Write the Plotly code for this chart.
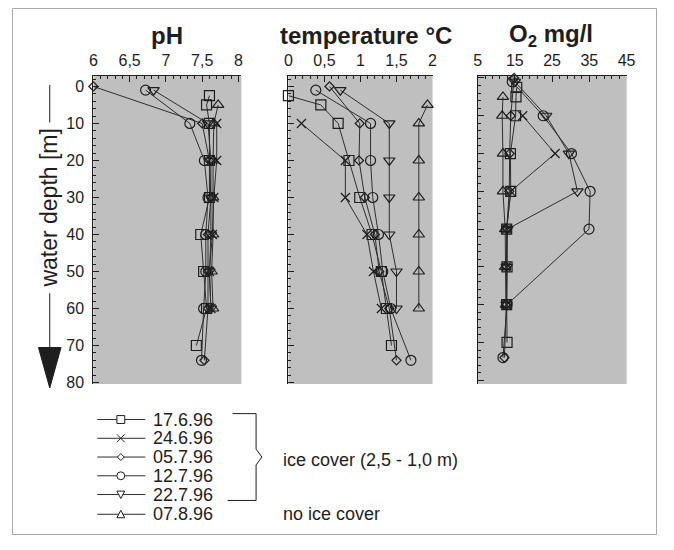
import plotly.graph_objects as go

# The page body keeps its default 8px margin on every side, so the figure is
# sized to fit the 674x550 window inside it; positions below are given in
# window pixels and shifted by that margin.
WIN_W, WIN_H = 674, 550
OFF = 8
W, H = WIN_W - 2 * OFF, WIN_H - 2 * OFF

# ---------------- data ----------------
SERIES = ["17.6.96", "24.6.96", "05.7.96", "12.7.96", "22.7.96", "07.8.96"]

DEPTH_1706 = [2.5, 5, 10, 20, 30, 40, 50, 60, 70]
PH_1706 = [7.60, 7.56, 7.60, 7.60, 7.60, 7.48, 7.52, 7.56, 7.42]
T_1706 = [0.00, 0.45, 0.69, 0.84, 0.99, 1.16, 1.29, 1.36, 1.43]
O2_1706 = [15.5, 15.3, 15.2, 13.8, 13.9, 12.8, 12.9, 12.8, 12.9]

DEPTH_2406 = [10, 20, 30, 40, 50, 60]
PH_2406 = [7.70, 7.70, 7.66, 7.64, 7.60, 7.62]
T_2406 = [0.18, 0.79, 0.79, 1.09, 1.18, 1.29]
O2_2406 = [17.1, 25.8, 13.9, 12.8, 12.7, 12.8]

DEPTH_0507 = [0, 10, 20, 30, 40, 50, 60, 74]
PH_0507 = [6.00, 7.50, 7.60, 7.62, 7.58, 7.58, 7.58, 7.53]
T_0507 = [0.57, 0.99, 0.98, 1.06, 1.20, 1.26, 1.40, 1.50]
O2_0507 = [14.8, 13.9, 13.6, 13.5, 12.8, 12.7, 12.7, 12.2]

DEPTH_1207 = [1, 10, 20, 30, 40, 50, 60, 74]
PH_1207 = [6.72, 7.33, 7.53, 7.58, 7.55, 7.55, 7.52, 7.49]
T_1207 = [0.38, 1.14, 1.14, 1.17, 1.25, 1.31, 1.42, 1.70]
O2_1207 = [14.3, 22.6, 30.2, 35.2, 34.9, None, 12.9, 11.8]

DEPTH_2207 = [1, 10, 20, 30, 40, 50, 60]
PH_2207 = [6.83, 7.58, 7.62, 7.62, 7.62, 7.60, 7.62]
T_2207 = [0.72, 1.40, 1.40, 1.40, 1.40, 1.50, 1.50]
O2_2207 = [15.0, 23.4, 29.5, 31.8, 13.0, 12.8, 12.8]

DEPTH_0708 = [5, 10, 20, 30, 40, 50, 60]
PH_0708 = [7.72, 7.66, 7.65, 7.65, 7.65, 7.63, 7.65]
T_0708 = [1.93, 1.81, 1.81, 1.81, 1.81, 1.81, 1.81]
O2_0708 = [11.8, 11.6, 11.8, 11.8, 12.4, 12.4, 12.6]

DEPTHS = [DEPTH_1706, DEPTH_2406, DEPTH_0507, DEPTH_1207, DEPTH_2207, DEPTH_0708]
PH = [PH_1706, PH_2406, PH_0507, PH_1207, PH_2207, PH_0708]
TEMP = [T_1706, T_2406, T_0507, T_1207, T_2207, T_0708]
O2 = [O2_1706, O2_2406, O2_0507, O2_1207, O2_2207, O2_0708]

PH_TICKS = [6, 6.5, 7, 7.5, 8]
PH_LABELS = ["6", "6,5", "7", "7,5", "8"]
T_TICKS = [0, 0.5, 1, 1.5, 2]
T_LABELS = ["0", "0,5", "1", "1,5", "2"]
O2_TICKS = [5, 15, 25, 35, 45]
O2_LABELS = ["5", "15", "25", "35", "45"]
DEPTH_TICKS = [0, 10, 20, 30, 40, 50, 60, 70, 80]
DEPTH_LABELS = ["0", "10", "20", "30", "40", "50", "60", "70", "80"]

# ---------------- styling ----------------
FONT = "Liberation Sans, Arial, Helvetica, sans-serif"
INK = "#1e1e1e"
LINE = "#2e2e2e"
BG = "#bfbfbf"
SYMBOLS = ["square-open", "x-thin-open", "diamond-open", "circle-open",
           "triangle-down-open", "triangle-up-open"]
SIZES = [10, 9, 7, 10, 10, 10]


def px(x):
    return (x - OFF) / W


def py(y):
    return 1 - (y - OFF) / H


fig = go.Figure()

panels = [(PH, "x", "y"), (TEMP, "x2", "y2"), (O2, "x3", "y3")]
for vals, xa, ya in panels:
    for i in range(len(SERIES)):
        fig.add_trace(go.Scatter(
            x=vals[i], y=DEPTHS[i], xaxis=xa, yaxis=ya,
            mode="lines+markers", connectgaps=True, cliponaxis=False,
            line=dict(color=LINE, width=1),
            marker=dict(symbol=SYMBOLS[i], size=SIZES[i],
                        color=INK, line=dict(color=INK, width=1.2)),
            showlegend=False, name=SERIES[i]))

top, bottom = 77, 389
ydom = [py(bottom), py(top)]


def xax(dom, rng, tv, tt, minor, anchor):
    return dict(domain=dom, range=rng, side="top", anchor=anchor,
                showline=True, linecolor=INK, linewidth=1, mirror=False,
                ticks="inside", ticklen=6, tickwidth=1, tickcolor=INK,
                tickvals=tv, ticktext=tt, showgrid=False, zeroline=False,
                tickfont=dict(family=FONT, size=16, color=INK),
                ticklabelstandoff=3,
                minor=dict(dtick=minor, tick0=tv[0], ticks="inside",
                           ticklen=3, tickcolor=INK, showgrid=False))


def yax(anchor, rng, labels):
    return dict(domain=ydom, range=rng, anchor=anchor, showline=True,
                linecolor=INK, linewidth=1, ticks="inside", ticklen=6,
                tickwidth=1, tickcolor=INK, tickvals=DEPTH_TICKS,
                ticktext=DEPTH_LABELS, showticklabels=labels,
                showgrid=False, zeroline=False,
                tickfont=dict(family=FONT, size=16, color=INK),
                ticklabelstandoff=5,
                minor=dict(dtick=2, tick0=0, ticks="inside", ticklen=3,
                           tickcolor=INK, showgrid=False))


fig.update_layout(
    width=W, height=H,
    margin=dict(l=0, r=0, t=0, b=0, pad=0),
    paper_bgcolor="white", plot_bgcolor=BG,
    separators=",.",
    font=dict(family=FONT, color=INK),
    xaxis=xax([px(91), px(242)], [6, 8.04], PH_TICKS, PH_LABELS, 0.1, "y"),
    xaxis2=xax([px(290), px(437)], [0, 2], T_TICKS, T_LABELS, 0.1, "y2"),
    xaxis3=xax([px(483), px(635)], [5, 45], O2_TICKS, O2_LABELS, 2, "y3"),
    yaxis=yax("x", [80.4, -2.8], True),
    yaxis2=yax("x2", [80.4, -2.8], False),
    yaxis3=yax("x3", [81.0, -0.5], False),
)

ann = []
shapes = []

# panel titles
for cx, txt in [(166, "<b>pH</b>"), (369, "<b>temperature °C</b>"),
                (558, "<b>O<sub>2</sub> mg/l</b>")]:
    ann.append(dict(x=px(cx), y=py(36), xref="paper", yref="paper",
                    text=txt, showarrow=False, xanchor="center",
                    yanchor="middle", font=dict(family=FONT, size=24, color=INK)))

# y title with arrow
ann.append(dict(x=px(46), y=py(210), xref="paper", yref="paper",
                text="water depth [m]", textangle=-90, showarrow=False,
                xanchor="center", yanchor="middle",
                font=dict(family=FONT, size=23, color=INK)))
shapes.append(dict(type="line", xref="paper", yref="paper",
                   x0=px(46.5), x1=px(46.5), y0=py(86), y1=py(124),
                   line=dict(color=INK, width=1)))
shapes.append(dict(type="line", xref="paper", yref="paper",
                   x0=px(46.5), x1=px(46.5), y0=py(297), y1=py(352),
                   line=dict(color=INK, width=1)))
shapes.append(dict(type="path", xref="paper", yref="paper",
                   path=f"M {px(35)},{py(352)} L {px(58)},{py(352)} L {px(46.5)},{py(393)} Z",
                   fillcolor=INK, line=dict(color=INK, width=1)))

# custom legend
rows = [425, 444, 463, 482, 501, 521]
lx0, lx1, mx, tx = 95, 144, 119, 150
for i, name in enumerate(SERIES):
    yy = rows[i]
    shapes.append(dict(type="line", xref="paper", yref="paper",
                       x0=px(lx0), x1=px(lx1), y0=py(yy), y1=py(yy),
                       line=dict(color=LINE, width=1)))
    s = 4
    lw = dict(color=INK, width=1)
    if i == 0:
        shapes.append(dict(type="rect", xref="paper", yref="paper",
                           x0=px(mx - s), x1=px(mx + s), y0=py(yy + s), y1=py(yy - s),
                           fillcolor="white", line=lw))
    elif i == 1:
        for a, b in [(-1, 1), (1, -1)]:
            shapes.append(dict(type="line", xref="paper", yref="paper",
                               x0=px(mx - s), x1=px(mx + s),
                               y0=py(yy + a * s), y1=py(yy + b * s), line=lw))
    elif i == 2:
        d = 3.5
        shapes.append(dict(type="path", xref="paper", yref="paper",
                           path=f"M {px(mx - d)},{py(yy)} L {px(mx)},{py(yy - d)} L {px(mx + d)},{py(yy)} L {px(mx)},{py(yy + d)} Z",
                           fillcolor="white", line=lw))
    elif i == 3:
        shapes.append(dict(type="circle", xref="paper", yref="paper",
                           x0=px(mx - s), x1=px(mx + s), y0=py(yy + s), y1=py(yy - s),
                           fillcolor="white", line=lw))
    elif i == 4:
        shapes.append(dict(type="path", xref="paper", yref="paper",
                           path=f"M {px(mx - s)},{py(yy - 3.5)} L {px(mx + s)},{py(yy - 3.5)} L {px(mx)},{py(yy + 4)} Z",
                           fillcolor="white", line=lw))
    else:
        shapes.append(dict(type="path", xref="paper", yref="paper",
                           path=f"M {px(mx - s)},{py(yy + 3.5)} L {px(mx + s)},{py(yy + 3.5)} L {px(mx)},{py(yy - 4)} Z",
                           fillcolor="white", line=lw))
    ann.append(dict(x=px(tx), y=py(yy), xref="paper", yref="paper",
                    text=name, showarrow=False, xanchor="left", yanchor="middle",
                    font=dict(family=FONT, size=18, color=INK)))

# bracket
shapes.append(dict(type="path", xref="paper", yref="paper",
                   path=(f"M {px(233)},{py(419)} L {px(257)},{py(419)} L {px(257)},{py(455)} "
                         f"L {px(263)},{py(463)} L {px(257)},{py(471)} L {px(257)},{py(507)} "
                         f"L {px(228)},{py(507)}"),
                   line=dict(color=INK, width=1)))
ann.append(dict(x=px(282), y=py(466), xref="paper", yref="paper",
                text="ice cover (2,5 - 1,0 m)", showarrow=False,
                xanchor="left", yanchor="middle",
                font=dict(family=FONT, size=18, color=INK)))
ann.append(dict(x=px(282), y=py(521), xref="paper", yref="paper",
                text="no ice cover", showarrow=False,
                xanchor="left", yanchor="middle",
                font=dict(family=FONT, size=18, color=INK)))

# outer frame, drawn at the edge of the figure area
shapes.append(dict(type="rect", xref="paper", yref="paper",
                   x0=0.5 / W, x1=1 - 0.5 / W, y0=0.5 / H, y1=1 - 0.5 / H,
                   line=dict(color="#a8a8a8", width=1), layer="above"))

fig.update_layout(annotations=ann, shapes=shapes)
fig.write_html("out.html")
